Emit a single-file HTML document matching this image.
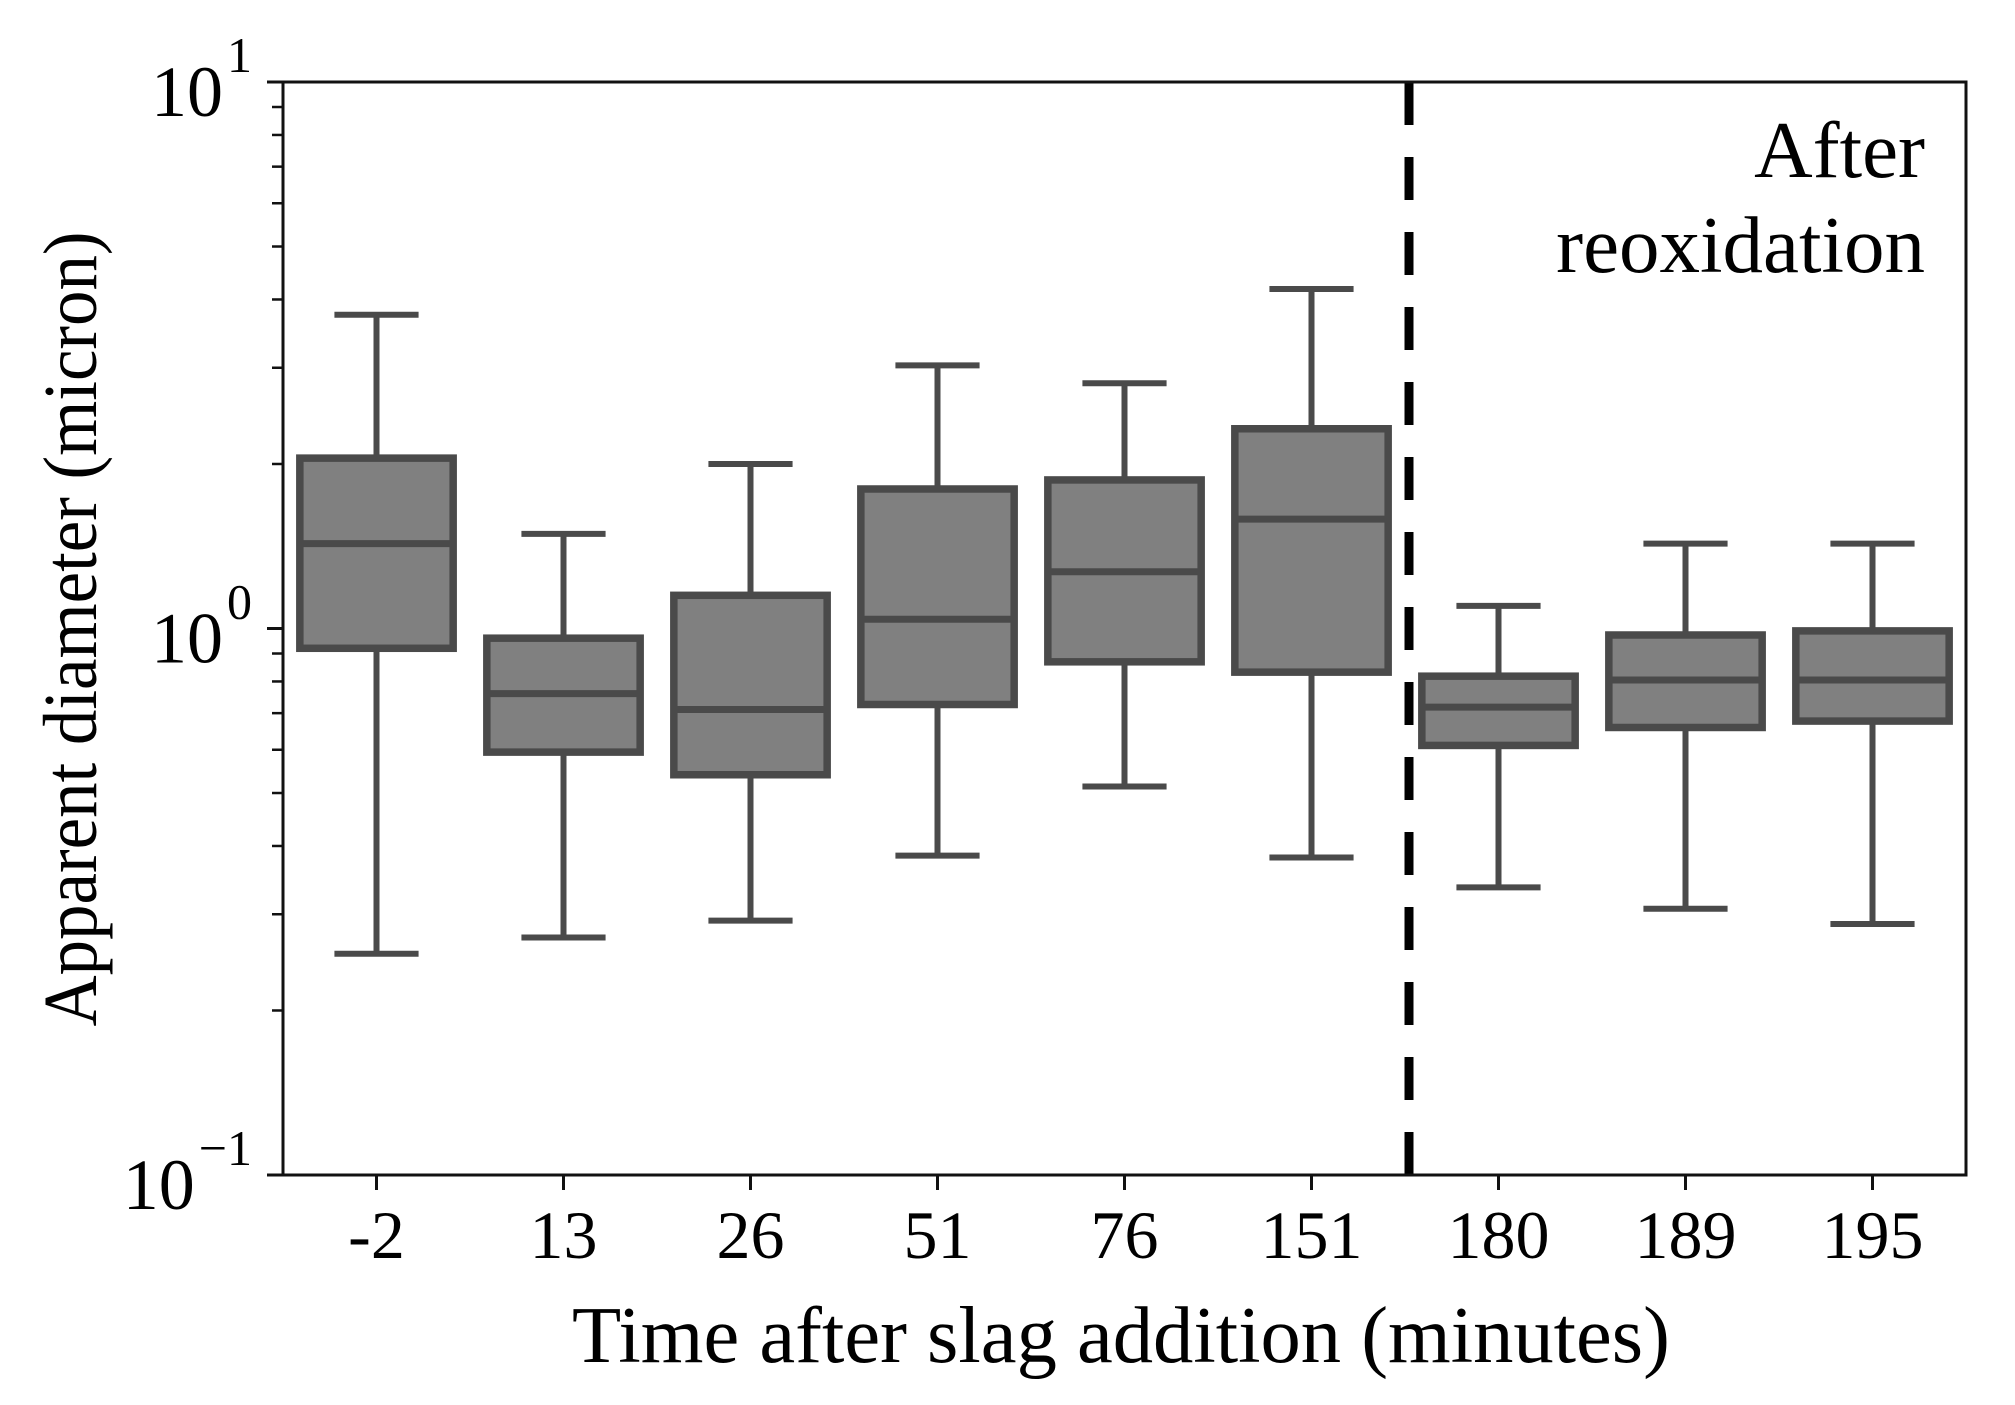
<!DOCTYPE html>
<html><head><meta charset="utf-8"><style>
html,body{margin:0;padding:0;background:#fff;}
svg{display:block;}
text{font-family:"Liberation Serif",serif;fill:#000;}
</style></head><body>
<svg id="chart" width="2015" height="1405" viewBox="0 0 2015 1405" xmlns="http://www.w3.org/2000/svg">
<rect x="0" y="0" width="2015" height="1405" fill="#fff"/>
<g id="plot"></g>
</svg>
<script>
const categories = ["-2","13","26","51","76","151","180","189","195"];
const whiskerHigh = [3.75,1.49,2.0,3.03,2.81,4.18,1.10,1.43,1.43];
const q3Values    = [2.05,0.96,1.15,1.80,1.87,2.32,0.818,0.973,0.99];
const medians     = [1.43,0.76,0.711,1.04,1.27,1.585,0.718,0.805,0.805];
const q1Values    = [0.92,0.594,0.54,0.726,0.869,0.832,0.611,0.659,0.677];
const whiskerLow  = [0.254,0.272,0.292,0.384,0.514,0.381,0.336,0.307,0.288];
const yTickExponents = ["1","0","\u22121"];
const reoxidationPosition = [5.5];

const NS="http://www.w3.org/2000/svg";
const L=283,R=1966,T=82,B=1175;
const bw=(R-L)/categories.length;
const xPos=i=>L+(i+0.5)*bw;
const yPos=v=>B-(Math.log10(v)+1)/2*(B-T);
const g=document.getElementById('plot');
function mk(tag,attrs,parent){const e=document.createElementNS(NS,tag);for(const k in attrs)e.setAttribute(k,attrs[k]);(parent||g).appendChild(e);return e;}

categories.forEach((c,i)=>{
  const grp=mk('g',{});
  
  
  const cx=xPos(i),hw=bw*0.41,cw=bw*0.225;
  const st={stroke:'#4a4a4a','stroke-width':6};
  const w1=mk('line',Object.assign({x1:cx,x2:cx,y1:yPos(whiskerHigh[i]),y2:yPos(q3Values[i])},st),grp);
  
  
  const w2=mk('line',Object.assign({x1:cx,x2:cx,y1:yPos(q1Values[i]),y2:yPos(whiskerLow[i])},st),grp);
  
  
  const c1=mk('line',Object.assign({x1:cx-cw,x2:cx+cw,y1:yPos(whiskerHigh[i]),y2:yPos(whiskerHigh[i])},st),grp);
  
  
  const c2=mk('line',Object.assign({x1:cx-cw,x2:cx+cw,y1:yPos(whiskerLow[i]),y2:yPos(whiskerLow[i])},st),grp);
  
  
  const rc=mk('rect',{x:cx-hw,y:yPos(q3Values[i]),width:2*hw,height:yPos(q1Values[i])-yPos(q3Values[i]),fill:'#808080',stroke:'#4a4a4a','stroke-width':7.5},grp);
  
  
  const md=mk('line',{x1:cx-hw,x2:cx+hw,y1:yPos(medians[i]),y2:yPos(medians[i]),stroke:'#4a4a4a','stroke-width':7},grp);
  
  
});

const dx=L+reoxidationPosition[0]*bw+bw*0.5+4;
const dl=mk('line',{x1:dx,x2:dx,y1:T,y2:B,stroke:'#000','stroke-width':9,'stroke-dasharray':'43 32'});



const fr=mk('rect',{x:L,y:T,width:R-L,height:B-T,fill:'none',stroke:'#111','stroke-width':3});



for(let d=-1;d<=1;d++){
  const yy=yPos(Math.pow(10,d));
  const t=mk('line',{x1:L-16,x2:L,y1:yy,y2:yy,stroke:'#111','stroke-width':3});
  
  
  if(d<1){for(let m=2;m<=9;m++){const ym=yPos(m*Math.pow(10,d));
    const mt=mk('line',{x1:L-11,x2:L,y1:ym,y2:ym,stroke:'#111','stroke-width':2.5});
    
    }}
}
yTickExponents.forEach((e,k)=>{
  const yy=yPos(Math.pow(10,1-k));
  const tx=mk('text',{x:252,y:yy+34,'text-anchor':'end','font-size':72});
  
  
  const b=document.createElementNS(NS,'tspan');b.textContent='10';tx.appendChild(b);
  const ex=document.createElementNS(NS,'tspan');
  ex.setAttribute('font-size','50');ex.setAttribute('dy','-44');ex.setAttribute('dx','4');
  ex.textContent=e;tx.appendChild(ex);
});

categories.forEach((c,i)=>{
  const t=mk('line',{x1:xPos(i),x2:xPos(i),y1:B,y2:B+15,stroke:'#111','stroke-width':3});
  
  
  const tx=mk('text',{x:xPos(i),y:1258,'text-anchor':'middle','font-size':68});
  tx.textContent=c;
  
  
});

const xl=mk('text',{x:1121,y:1362,'text-anchor':'middle','font-size':80,textLength:1098,lengthAdjust:'spacingAndGlyphs'});
xl.textContent='Time after slag addition (minutes)';


const yl=mk('text',{x:0,y:0,'text-anchor':'middle','font-size':76,textLength:795,lengthAdjust:'spacingAndGlyphs',transform:'translate(96,629) rotate(-90)'});
yl.textContent='Apparent diameter (micron)';


const a1=mk('text',{x:1925,y:177,'text-anchor':'end','font-size':81});
a1.textContent='After';


const a2=mk('text',{x:1925,y:272,'text-anchor':'end','font-size':81});
a2.textContent='reoxidation';


</script>
</body></html>
